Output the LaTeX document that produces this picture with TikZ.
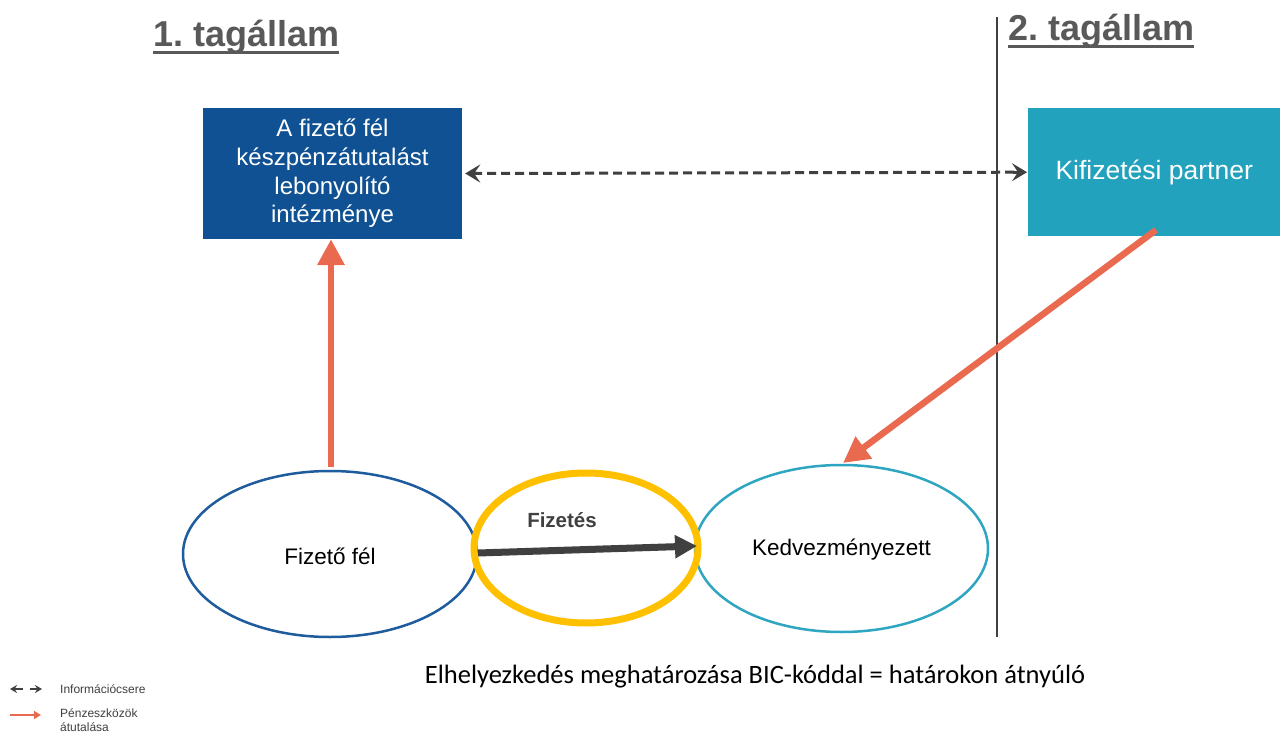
\documentclass[tikz,border=0pt]{standalone}
\usepackage{fontspec}
\setmainfont{Liberation Sans}
\newfontfamily\calibri{Carlito}
\usetikzlibrary{arrows.meta,calc}
\definecolor{titlegray}{HTML}{595959}
\definecolor{darkgray}{HTML}{404040}
\definecolor{boxblue}{HTML}{0F5193}
\definecolor{boxteal}{HTML}{22A2BC}
\definecolor{ringblue}{HTML}{1F5C9E}
\definecolor{ringteal}{HTML}{2FA6C1}
\definecolor{gold}{HTML}{FFC000}
\definecolor{money}{HTML}{EA6A50}
\tikzset{
  titletext/.style={font=\fontsize{36}{40}\selectfont\bfseries, text=titlegray, inner sep=0pt, anchor=base west},
  bank/.style={fill=boxblue, text=white, align=center, inner sep=0pt},
  partner/.style={fill=boxteal, text=white, align=center, inner sep=0pt},
  moneyflow/.style={draw=money, line width=6.5pt, -{Triangle[length=26pt,width=26pt]}},
  infoline/.style={draw=darkgray, line width=3pt, dash pattern=on 9pt off 5pt},
  infotip/.style={draw=darkgray, line width=3pt, -{Stealth[length=15pt,width=18pt,inset=6pt]}},
  payflow/.style={draw=darkgray, line width=7pt, -{Triangle[length=22pt,width=22pt]}},
  legendtext/.style={font=\fontsize{12}{14}\selectfont, text=darkgray, anchor=west, align=left, inner sep=0pt},
}
\begin{document}
\frenchspacing
\begin{tikzpicture}[x=1pt,y=-1pt]
\useasboundingbox (0,0) rectangle (1280,733);
\fill[white] (0,0) rectangle (1280,733);

% country headings and border
\node[titletext] (t1) at (153,47) {1. tagállam};
\draw[titlegray, line width=3pt] ($(t1.base west)+(0,6)$) -- ($(t1.base east)+(0,6)$);
\node[titletext] (t2) at (1008,41) {2. tagállam};
\draw[titlegray, line width=3pt] ($(t2.base west)+(0,6)$) -- ($(t2.base east)+(0,6)$);
\coordinate (bordertop) at (997,17);
\coordinate (borderbot) at (997,637);
\draw[darkgray, line width=2pt] (bordertop) -- (borderbot);

% institutions
\node[bank, minimum width=259pt, minimum height=131pt,
      font=\fontsize{24}{28.7}\selectfont] (bank) at (332.5,173.5)
  {A fizető fél\\készpénzátutalást\\lebonyolító\\intézménye};
\node[partner, minimum width=252pt, minimum height=128pt,
      font=\fontsize{26.5}{30}\selectfont, anchor=north west] (partner) at (1028,108)
  {Kifizetési partner};

% parties
\draw[ringblue, line width=2.5pt] (330,554) ellipse [x radius=147, y radius=83];
\node[font=\fontsize{22.5}{27}\selectfont] (payer) at (330,556) {Fizető fél};
\coordinate (payertop) at (331,467);
\coordinate (payerright) at (478,553);

\draw[ringteal, line width=2.5pt] (841.5,548.5) ellipse [x radius=146.5, y radius=83.5];
\node[font=\fontsize{22.5}{27}\selectfont] (payee) at (841.5,550) {Kedvezményezett};
\coordinate (payeetop) at (843,463);
\coordinate (payeeleft) at (697,546);

\draw[gold, line width=7pt] (586,548) ellipse [x radius=112, y radius=75];
\node[font=\fontsize{20.5}{24}\selectfont\bfseries, text=darkgray] (payment) at (562,520) {Fizetés};

% information exchange between the institutions
\coordinate (infoA) at ($(bank.east)+(3,0)$);
\coordinate (infoB) at ($(partner.west)+(-1,0)$);
\draw[infoline] ($(infoA)+(8,0)$) -- ($(infoB)+(-8,0)$);
\draw[infotip] ($(infoA)+(14,0)$) -- (infoA);
\draw[infotip] ($(infoB)+(-14,0)$) -- (infoB);

% money and payment flows
\draw[moneyflow] (payertop) -- (bank.south -| payertop);
\coordinate (partnerfoot) at (1156,230);
\draw[moneyflow] (partnerfoot) -- (payeetop);
\draw[payflow] (payerright) -- (payeeleft);

% note
\node[font=\calibri\fontsize{26.5}{30}\selectfont, text=black] (note) at (755,677)
  {Elhelyezkedés meghatározása BIC-kóddal = határokon átnyúló};

% legend
\coordinate (la1) at (10,689);
\coordinate (la2) at (42,689);
\draw[darkgray, line width=2pt, {Stealth[length=7pt,width=8pt]}-] (la1) -- ++(13,0);
\draw[darkgray, line width=2pt, -{Stealth[length=7pt,width=8pt]}] ($(la2)+(-12,0)$) -- (la2);
\node[legendtext] (l1) at (60,689) {Információcsere};
\coordinate (lb1) at (10,715);
\coordinate (lb2) at (41,715);
\draw[money, line width=2.2pt, -{Triangle[length=7pt,width=8pt]}] (lb1) -- (lb2);
\node[legendtext, anchor=north west] (l2) at (60,708) {Pénzeszközök\\átutalása};
\end{tikzpicture}
\end{document}
